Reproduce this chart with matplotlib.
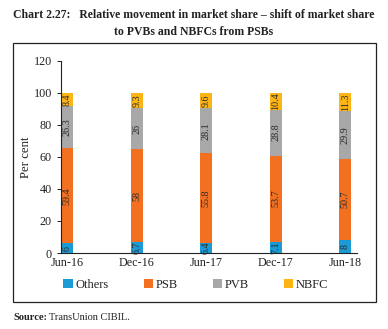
import matplotlib
matplotlib.use('Agg')
import matplotlib.pyplot as plt
from matplotlib.patches import Rectangle
import numpy as np

# chart data
periods = ['Jun-16', 'Dec-16', 'Jun-17', 'Dec-17', 'Jun-18']
others = [6, 6.7, 6.4, 7.1, 8]
psb = [59.4, 58, 55.8, 53.7, 50.7]
pvb = [26.3, 26, 28.1, 28.8, 29.9]
nbfc = [8.4, 9.3, 9.6, 10.4, 11.3]

series = [('Others', others, '#1b9ad6'),
          ('PSB', psb, '#f37021'),
          ('PVB', pvb, '#a8a8a8'),
          ('NBFC', nbfc, '#fdb515')]

plt.rcParams['font.family'] = ['Liberation Serif', 'DejaVu Serif']

fig = plt.figure(figsize=(3.88, 3.29), dpi=100)
ax = fig.add_axes([0.157, 0.231, 0.763, 0.584])

x = np.arange(len(periods))
bottom = np.zeros(len(periods))
for name, vals, color in series:
    vals = np.array(vals, dtype=float)
    ax.bar(x, vals, width=0.17, bottom=bottom, color=color, label=name)
    for xi, b, v in zip(x, bottom, vals):
        ax.text(xi, b + v / 2, f'{v:g}', rotation=90, ha='center', va='center',
                fontsize=7.3, color='#2a2a2a')
    bottom += vals

ax.set_ylim(0, 120)
ax.set_yticks(range(0, 121, 20))
ax.set_xlim(-0.09, 4.17)
ax.set_xticks(x)
ax.set_xticklabels(periods)
ax.tick_params(axis='both', labelsize=8.7, colors='#222222', length=3, width=0.7)
ax.tick_params(axis='x', length=0, pad=3)
ax.set_ylabel('Per cent', fontsize=9.2, color='#222222')
ax.yaxis.set_label_coords(-0.098, 0.5)
for s in ['top', 'right']:
    ax.spines[s].set_visible(False)
for s in ['left', 'bottom']:
    ax.spines[s].set_linewidth(0.8)
    ax.spines[s].set_color('#222222')

fig.legend(loc='center', bbox_to_anchor=(0.505, 0.135), ncol=4, frameon=False,
           fontsize=9, handlelength=0.75, handleheight=0.75, handletextpad=0.25,
           columnspacing=2.75, labelcolor='#222222')

# outer frame
fig.patches.append(Rectangle((0.033, 0.082), 0.936, 0.787, transform=fig.transFigure,
                             fill=False, edgecolor='#222222', linewidth=0.9))

fig.text(0.034, 0.954, 'Chart 2.27:   Relative movement in market share \u2013 shift of market share',
         fontsize=8.5, fontweight='bold', color='#222222', ha='left', va='center')
fig.text(0.5, 0.904, 'to PVBs and NBFCs from PSBs',
         fontsize=8.5, fontweight='bold', color='#222222', ha='center', va='center')

src = fig.text(0.034, 0.036, 'Source:', fontsize=7.5, fontweight='bold', color='#222222',
               ha='left', va='center')
fig.canvas.draw()
bb = src.get_window_extent().transformed(fig.transFigure.inverted())
fig.text(bb.x1 + 0.006, 0.036, 'TransUnion CIBIL.', fontsize=7.5, color='#222222',
         ha='left', va='center')

fig.savefig('out.png', dpi=100)
